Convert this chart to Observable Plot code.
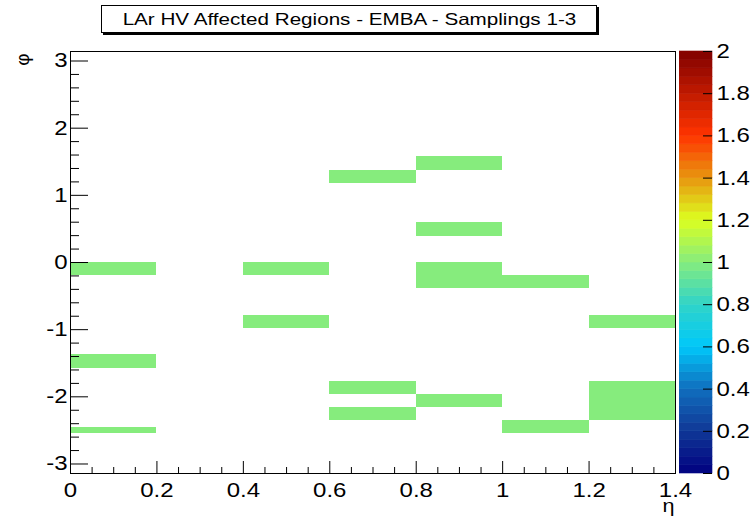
<!DOCTYPE html>
<html>
<head>
<meta charset="utf-8">
<script src="https://cdn.jsdelivr.net/npm/d3@7"></script>
<script src="https://cdn.jsdelivr.net/npm/@observablehq/plot@0.6"></script>
<style>
  html, body { margin: 0; padding: 0; background: #fff; }
  #wrap { position: relative; width: 751px; height: 517px; overflow: hidden; background: #fff; font-family: "Liberation Sans", Arial, sans-serif; }
  #wrap svg { position: absolute; z-index: 1; }
  #title { position: absolute; z-index: 5; left: 101px; top: 5px; width: 494px; height: 26px; border: 1px solid #000; box-shadow: 2px 2px 0 #000; background: #fff; text-align: center; line-height: 26px; font-size: 16.5px; color: #000; white-space: nowrap; }
  #title span { display: inline-block; transform: scaleX(1.25); transform-origin: center; }
</style>
</head>
<body>
<div id="wrap"><div id="title"><span id="titleText"></span></div></div>
<script>
// ---- data ----
const titleText = "LAr HV Affected Regions - EMBA - Samplings 1-3";
const xTitle = "η";
const yTitle = "φ";
const etaLow  = [0.0, 0.4, 0.4, 0.0, 0.0, 0.6, 0.6, 0.6, 0.8, 0.8, 0.8, 1.0, 1.2, 0.8, 1.0, 1.2];
const etaHigh = [0.2, 0.6, 0.6, 0.2, 0.2, 0.8, 0.8, 0.8, 1.0, 1.0, 1.0, 1.2, 1.4, 1.0, 1.2, 1.4];
const phiLow  = [-0.196, -0.196, -0.982, -1.571, -2.553, -1.963, -2.356, 1.178, 1.374, 0.393, -0.393, -0.393, -0.982, -2.160, -2.553, -2.356];
const phiHigh = [0, 0, -0.785, -1.374, -2.454, -1.767, -2.160, 1.374, 1.571, 0.589, 0, -0.196, -0.785, -1.963, -2.356, -1.767];
const cellValue = [1, 1, 1, 1, 1, 1, 1, 1, 1, 1, 1, 1, 1, 1, 1, 1];

const xMajor = [0, 0.2, 0.4, 0.6, 0.8, 1, 1.2, 1.4];
const xMinor = [0.05, 0.1, 0.15, 0.25, 0.3, 0.35, 0.45, 0.5, 0.55, 0.65, 0.7, 0.75, 0.85, 0.9, 0.95, 1.05, 1.1, 1.15, 1.25, 1.3, 1.35];
const yMajor = [-3, -2, -1, 0, 1, 2, 3];
const yMinor = [-2.8, -2.6, -2.4, -2.2, -1.8, -1.6, -1.4, -1.2, -0.8, -0.6, -0.4, -0.2, 0.2, 0.4, 0.6, 0.8, 1.2, 1.4, 1.6, 1.8, 2.2, 2.4, 2.6, 2.8];
const zTicks = [0, 0.2, 0.4, 0.6, 0.8, 1, 1.2, 1.4, 1.6, 1.8, 2];

const paletteStops  = [0, 0.2, 0.4, 0.6, 0.8, 1.0, 1.2, 1.4, 1.6, 1.8, 2.0];
const paletteColors = ["#000080", "#103896", "#106ebe", "#00c8fa", "#30d4c8", "#86ec7d", "#dcff20", "#e8960f", "#ff3400", "#c01a00", "#800000"];
const paletteBands = d3.range(50).map(i => i * 0.04);

const phiDomain = [-3.1416, 3.1416];
const etaDomain = [0, 1.4];
const zDomain = [0, 2];

document.getElementById("titleText").textContent = titleText;

const cells = etaLow.map((e, i) => ({x1: e, x2: etaHigh[i], y1: phiLow[i], y2: phiHigh[i], v: cellValue[i]}));
const colorOpts = {type: "linear", domain: paletteStops, range: paletteColors, interpolate: "rgb"};
const fmt = d => String(d);

const W = 751, H = 517, mL = 70, mR = 76, mT = 51, mB = 44;
const pw = W - mL - mR, ph = H - mT - mB;

const main = Plot.plot({
  width: W, height: H,
  marginLeft: mL, marginRight: mR, marginTop: mT, marginBottom: mB,
  style: {background: "white", fontFamily: "Liberation Sans, Arial, sans-serif", fontSize: "20px", color: "#000"},
  x: {domain: etaDomain, label: null},
  y: {domain: phiDomain, label: null},
  color: colorOpts,
  marks: [
    Plot.rect(cells, {x1: "x1", x2: "x2", y1: "y1", y2: "y2", fill: "v", shapeRendering: "crispEdges"}),
    Plot.ruleY(yMajor, {y: d => d, insetRight: pw - 18, stroke: "#000"}),
    Plot.ruleY(yMinor, {y: d => d, insetRight: pw - 9, stroke: "#000"}),
    Plot.ruleX(xMajor, {x: d => d, insetTop: ph - 12, stroke: "#000"}),
    Plot.ruleX(xMinor, {x: d => d, insetTop: ph - 6, stroke: "#000"}),
    Plot.frame({stroke: "#000", strokeWidth: 1}),
    Plot.axisY({ticks: yMajor, tickSize: 0, tickPadding: 3, tickFormat: fmt, fontSize: 20, label: null}),
    Plot.axisX({ticks: xMajor, tickSize: 0, tickPadding: 9, tickFormat: fmt, fontSize: 20, label: null}),
    Plot.text([yTitle], {text: d => d, frameAnchor: "top-left", dx: -48, dy: 8, rotate: -90, fontSize: 19, textAnchor: "middle", lineAnchor: "middle"}),
    Plot.text([xTitle], {text: d => d, frameAnchor: "bottom-right", dx: -1, dy: 26, fontSize: 18, textAnchor: "end", lineAnchor: "top"})
  ]
});
main.style.left = "0px"; main.style.top = "0px";

const cbW = 72, cbInner = 33;
const bar = Plot.plot({
  width: cbW, height: H,
  marginLeft: 0, marginRight: cbW - cbInner, marginTop: mT, marginBottom: mB,
  style: {background: "transparent", fontFamily: "Liberation Sans, Arial, sans-serif", fontSize: "20px", color: "#000"},
  y: {domain: zDomain, label: null},
  color: colorOpts,
  marks: [
    Plot.rect(paletteBands, {y1: d => d, y2: d => d + 0.04, fill: d => d + 0.02, stroke: d => d + 0.02, strokeWidth: 0.6}),
    Plot.ruleY(zTicks, {y: d => d, insetLeft: cbInner - 9, stroke: "#000"}),
    Plot.axisY({anchor: "right", ticks: zTicks, tickSize: 0, tickPadding: 4, tickFormat: fmt, fontSize: 20, label: null})
  ]
});
bar.style.left = "679px"; bar.style.top = "0px";

const wrap = document.getElementById("wrap");
wrap.appendChild(main);
wrap.appendChild(bar);

// horizontal stretch of text, as in the reference rendering
for (const svg of [main, bar]) {
  svg.querySelectorAll("text").forEach(t => {
    if (t.getAttribute("transform") && /rotate/.test(t.getAttribute("transform"))) return;
    const len = t.getComputedTextLength();
    if (len > 0) {
      t.setAttribute("textLength", (len * 1.2).toFixed(2));
      t.setAttribute("lengthAdjust", "spacingAndGlyphs");
    }
  });
}
</script>
</body>
</html>
